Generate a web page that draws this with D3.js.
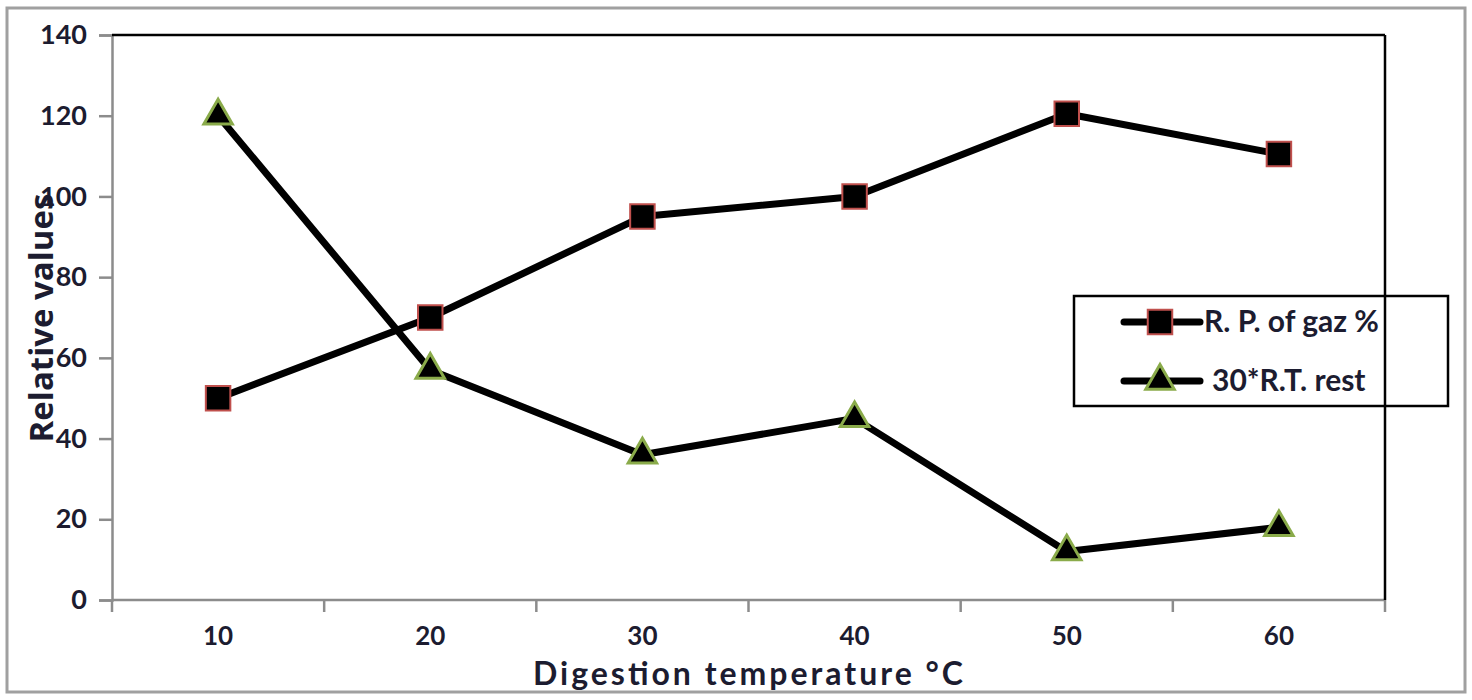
<!DOCTYPE html>
<html>
<head>
<meta charset="utf-8">
<script src="https://cdn.jsdelivr.net/npm/d3@7"></script>
<style>
  body { margin: 0; background: #fff; }
  svg { display: block; font-family: Lato, "Open Sans", sans-serif; }
</style>
</head>
<body>
<div id="chart"></div>
<script>
// chart values
var temperatures = ["10", "20", "30", "40", "50", "60"];
var gazValues = [50, 70, 95, 100, 120.5, 110.5];
var restValues = [120, 57, 36, 45, 12, 18];
var yTicks = [0, 20, 40, 60, 80, 100, 120, 140];
var seriesNames = ["R. P. of gaz %", "30*R.T. rest"];

var width = 1472, height = 700;
var margin = { top: 35, right: 87, bottom: 100, left: 112 };
var textColor = "#1c1c30";

var svg = d3.select("#chart").append("svg")
  .attr("width", width)
  .attr("height", height);

// outer chart border
svg.append("rect")
  .attr("x", 7).attr("y", 8)
  .attr("width", 1458).attr("height", 684)
  .attr("fill", "#fff")
  .attr("stroke", "#a0a0a0")
  .attr("stroke-width", 3);

var x = d3.scaleBand()
  .domain(temperatures)
  .range([margin.left, width - margin.right]);

var y = d3.scaleLinear()
  .domain([0, 140])
  .range([height - margin.bottom, margin.top]);

var x0 = margin.left, x1 = width - margin.right;
var y0 = height - margin.bottom, y1 = margin.top;

// y axis
var yAxis = svg.append("g")
  .attr("transform", "translate(" + x0 + ",0)")
  .call(d3.axisLeft(y).tickValues(yTicks).tickSize(13).tickPadding(12));
yAxis.select(".domain").attr("stroke", "#8c8c8c").attr("stroke-width", 2.5);
yAxis.selectAll(".tick line").attr("stroke", "#8c8c8c").attr("stroke-width", 2.5);
yAxis.selectAll(".tick text")
  .attr("font-size", 27)
  .attr("font-weight", "bold")
  .attr("font-family", "Lato, sans-serif")
  .attr("fill", textColor);

// x axis, ticks on band edges
var xAxis = svg.append("g")
  .attr("transform", "translate(0," + y0 + ")");
xAxis.append("line")
  .attr("x1", x0).attr("x2", x1)
  .attr("y1", 0).attr("y2", 0)
  .attr("stroke", "#8c8c8c").attr("stroke-width", 2.5);
var edges = temperatures.map(function (t) { return x(t); }).concat([x1]);
xAxis.selectAll(".edge").data(edges).enter().append("line")
  .attr("x1", function (d) { return d; })
  .attr("x2", function (d) { return d; })
  .attr("y1", 0).attr("y2", 12)
  .attr("stroke", "#8c8c8c").attr("stroke-width", 2.5);
xAxis.selectAll(".lbl").data(temperatures).enter().append("text")
  .attr("x", function (d) { return x(d) + x.bandwidth() / 2; })
  .attr("y", 45)
  .attr("text-anchor", "middle")
  .attr("font-size", 26)
  .attr("font-weight", "bold")
  .attr("font-family", "Lato, sans-serif")
  .attr("fill", textColor)
  .text(function (d) { return d; });

// axis titles
svg.append("text")
  .attr("x", 748).attr("y", 685)
  .attr("text-anchor", "middle")
  .attr("font-size", 32)
  .attr("font-weight", "bold")
  .attr("font-family", "Lato, sans-serif")
  .attr("textLength", 430)
  .attr("lengthAdjust", "spacing")
  .attr("fill", textColor)
  .text("Digestion temperature °C");

svg.append("text")
  .attr("transform", "translate(53,318) rotate(-90)")
  .attr("text-anchor", "middle")
  .attr("font-size", 33)
  .attr("font-weight", "bold")
  .attr("font-family", "'Open Sans', sans-serif")
  .attr("fill", textColor)
  .text("Relative values");

// lines
var line = d3.line()
  .x(function (d, i) { return x(temperatures[i]) + x.bandwidth() / 2; })
  .y(function (d) { return y(d); });

[gazValues, restValues].forEach(function (vals) {
  svg.append("path").datum(vals)
    .attr("d", line)
    .attr("fill", "none")
    .attr("stroke", "#000")
    .attr("stroke-width", 7)
    .attr("stroke-linejoin", "round");
});

var square = d3.symbol().type(d3.symbolSquare).size(600);
var triangle = d3.symbol().type(d3.symbolTriangle).size(350);

svg.selectAll(".sq").data(gazValues).enter().append("path")
  .attr("d", square)
  .attr("transform", function (d, i) {
    return "translate(" + (x(temperatures[i]) + x.bandwidth() / 2) + "," + y(d) + ")";
  })
  .attr("fill", "#000")
  .attr("stroke", "#c0504d")
  .attr("stroke-width", 2);

svg.selectAll(".tri").data(restValues).enter().append("path")
  .attr("d", triangle)
  .attr("transform", function (d, i) {
    return "translate(" + (x(temperatures[i]) + x.bandwidth() / 2) + "," + y(d) + ")";
  })
  .attr("fill", "#000")
  .attr("stroke", "#8aab4a")
  .attr("stroke-width", 3);

// legend
var legend = svg.append("g");
legend.append("rect")
  .attr("x", 1074).attr("y", 296)
  .attr("width", 374).attr("height", 110)
  .attr("fill", "none")
  .attr("stroke", "#000")
  .attr("stroke-width", 2.5);

var rows = [
  { name: seriesNames[0], sym: square, stroke: "#c0504d", sw: 2, y: 322, tx: 1204 },
  { name: seriesNames[1], sym: triangle, stroke: "#8aab4a", sw: 3, y: 381, tx: 1212 }
];
rows.forEach(function (r) {
  legend.append("line")
    .attr("x1", 1124).attr("x2", 1200)
    .attr("y1", r.y).attr("y2", r.y)
    .attr("stroke", "#000").attr("stroke-width", 7)
    .attr("stroke-linecap", "round");
  legend.append("path")
    .attr("d", r.sym)
    .attr("transform", "translate(1160," + r.y + ")")
    .attr("fill", "#000")
    .attr("stroke", r.stroke)
    .attr("stroke-width", r.sw);
  legend.append("text")
    .attr("x", r.tx)
    .attr("y", r.y + 10)
    .attr("font-size", 30)
    .attr("font-weight", "bold")
    .attr("font-family", "Lato, sans-serif")
    .attr("fill", textColor)
    .text(r.name);
});

// plot frame (top and right), drawn over legend
svg.append("line")
  .attr("x1", x0).attr("x2", x1)
  .attr("y1", y1).attr("y2", y1)
  .attr("stroke", "#000").attr("stroke-width", 2.5);
svg.append("line")
  .attr("x1", x1).attr("x2", x1)
  .attr("y1", y1).attr("y2", y0)
  .attr("stroke", "#000").attr("stroke-width", 2.5);
</script>
</body>
</html>
